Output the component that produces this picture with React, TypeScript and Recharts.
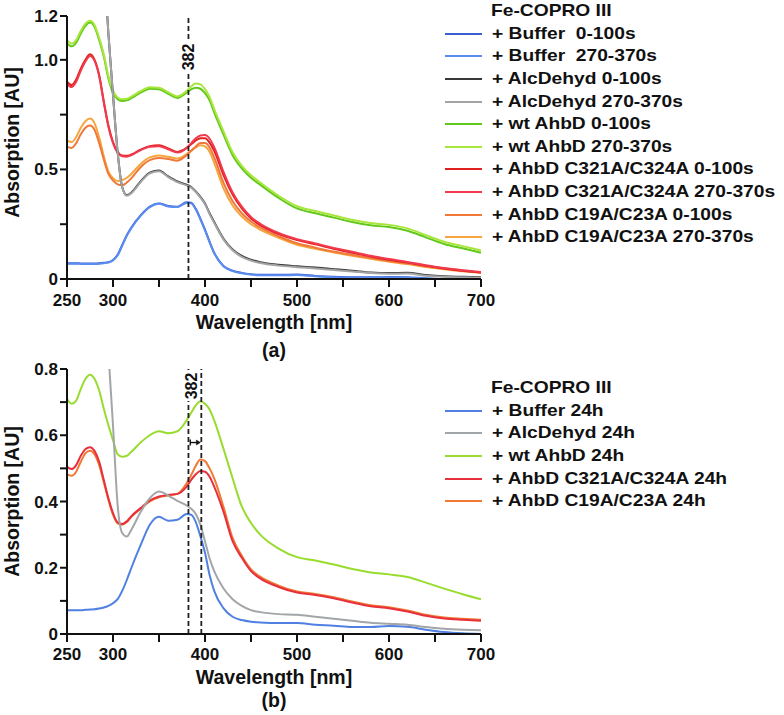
import { LineChart, Line, XAxis, YAxis, ReferenceLine } from 'recharts';

const FONT = "'Liberation Sans', Arial, Helvetica, sans-serif";
const INK = '#111111';

// wavelength grid (nm)
const wavelengths = [
  250, 255, 260, 265, 270, 275, 280, 285, 290, 295, 300, 305, 310, 315, 320, 330, 340, 350, 360, 370, 380, 385,
  390, 395, 400, 405, 410, 420, 430, 440, 450, 460, 480, 500, 520, 540, 560, 580, 600, 620, 640, 660, 680, 700,
];

// ---- (a) time windows ----
const bufferA0 = [
  0.072, 0.072, 0.072, 0.071, 0.071, 0.071, 0.071, 0.072, 0.074, 0.077, 0.087, 0.11, 0.155, 0.2, 0.235, 0.29, 0.33,
  0.345, 0.333, 0.33, 0.35, 0.348, 0.32, 0.275, 0.225, 0.17, 0.12, 0.06, 0.038, 0.028, 0.022, 0.019, 0.019, 0.02,
  0.014, 0.01, 0.008, 0.008, 0.009, 0.008, 0.003, 0, 0, 0,
];
const bufferA270 = [
  0.07, 0.07, 0.07, 0.069, 0.069, 0.069, 0.069, 0.07, 0.072, 0.075, 0.085, 0.108, 0.152, 0.198, 0.233, 0.288, 0.328,
  0.343, 0.331, 0.328, 0.347, 0.345, 0.317, 0.272, 0.222, 0.167, 0.118, 0.058, 0.036, 0.026, 0.02, 0.017, 0.017,
  0.018, 0.012, 0.008, 0.006, 0.006, 0.007, 0.006, 0.002, 0, 0, 0,
];
const alcA0 = [
  null, null, null, null, null, null, null, null, 1.45, 1.12, 0.84, 0.58, 0.42, 0.383, 0.395, 0.445, 0.485, 0.495,
  0.468, 0.445, 0.43, 0.42, 0.4, 0.375, 0.345, 0.3, 0.26, 0.185, 0.135, 0.105, 0.088, 0.077, 0.065, 0.058, 0.052,
  0.045, 0.038, 0.03, 0.027, 0.028, 0.018, 0.012, 0.01, 0.008,
];
const alcA270 = [
  null, null, null, null, null, null, null, null, 1.45, 1.12, 0.84, 0.58, 0.418, 0.38, 0.392, 0.442, 0.482, 0.492,
  0.465, 0.442, 0.427, 0.417, 0.397, 0.371, 0.341, 0.296, 0.256, 0.181, 0.131, 0.101, 0.084, 0.073, 0.061, 0.054,
  0.048, 0.041, 0.034, 0.027, 0.024, 0.025, 0.015, 0.01, 0.008, 0.006,
];
const wtA0 = [
  1.075, 1.062, 1.078, 1.12, 1.155, 1.17, 1.15, 1.09, 1.015, 0.915, 0.85, 0.82, 0.812, 0.815, 0.825, 0.85, 0.868,
  0.866, 0.845, 0.826, 0.85, 0.865, 0.873, 0.868, 0.848, 0.815, 0.76, 0.66, 0.565, 0.505, 0.462, 0.43, 0.37, 0.322,
  0.3, 0.28, 0.26, 0.245, 0.237, 0.22, 0.19, 0.16, 0.14, 0.12,
];
const wtA270 = [
  1.09, 1.075, 1.09, 1.132, 1.165, 1.178, 1.158, 1.1, 1.025, 0.925, 0.86, 0.828, 0.82, 0.822, 0.832, 0.857, 0.875,
  0.873, 0.852, 0.833, 0.858, 0.878, 0.892, 0.888, 0.866, 0.83, 0.775, 0.675, 0.578, 0.516, 0.473, 0.44, 0.38, 0.332,
  0.31, 0.29, 0.27, 0.255, 0.247, 0.231, 0.2, 0.17, 0.15, 0.13,
];
const c321A0 = [
  0.9, 0.885, 0.91, 0.96, 1.0, 1.025, 1.0, 0.93, 0.81, 0.7, 0.625, 0.58, 0.563, 0.562, 0.568, 0.59, 0.606, 0.61,
  0.596, 0.58, 0.598, 0.615, 0.632, 0.642, 0.642, 0.622, 0.585, 0.475, 0.385, 0.322, 0.276, 0.246, 0.205, 0.178,
  0.158, 0.138, 0.12, 0.103, 0.088, 0.075, 0.06, 0.048, 0.038, 0.03,
];
const c321A270 = [
  0.89, 0.876, 0.9, 0.95, 0.992, 1.018, 0.995, 0.925, 0.805, 0.695, 0.62, 0.576, 0.56, 0.558, 0.565, 0.588, 0.603,
  0.606, 0.592, 0.577, 0.598, 0.62, 0.642, 0.655, 0.657, 0.64, 0.602, 0.49, 0.395, 0.33, 0.283, 0.252, 0.21, 0.182,
  0.162, 0.142, 0.124, 0.106, 0.091, 0.078, 0.063, 0.05, 0.04, 0.032,
];
const c19A0 = [
  0.603, 0.598, 0.62, 0.66, 0.69, 0.7, 0.68, 0.62, 0.545, 0.48, 0.45, 0.432, 0.428, 0.44, 0.46, 0.51, 0.542, 0.552,
  0.548, 0.54, 0.565, 0.585, 0.605, 0.62, 0.62, 0.6, 0.555, 0.44, 0.355, 0.3, 0.262, 0.235, 0.195, 0.163, 0.143,
  0.125, 0.11, 0.096, 0.082, 0.071, 0.058, 0.047, 0.037, 0.03,
];
const c19A270 = [
  0.633, 0.625, 0.648, 0.69, 0.72, 0.732, 0.71, 0.645, 0.56, 0.49, 0.46, 0.447, 0.451, 0.462, 0.48, 0.525, 0.555,
  0.563, 0.558, 0.55, 0.57, 0.585, 0.6, 0.61, 0.605, 0.58, 0.53, 0.415, 0.335, 0.285, 0.25, 0.225, 0.188, 0.156,
  0.138, 0.121, 0.106, 0.092, 0.079, 0.068, 0.055, 0.045, 0.035, 0.028,
];

// ---- (b) 24h ----
const buffer24 = [
  0.072, 0.072, 0.072, 0.072, 0.073, 0.074, 0.075, 0.077, 0.08, 0.085, 0.093, 0.105, 0.13, 0.163, 0.2, 0.268, 0.33,
  0.354, 0.342, 0.345, 0.362, 0.36, 0.338, 0.295, 0.245, 0.178, 0.13, 0.078, 0.052, 0.042, 0.037, 0.035, 0.033,
  0.033, 0.028, 0.025, 0.021, 0.021, 0.024, 0.022, 0.013, 0.006, 0.002, 0,
];
const alc24 = [
  null, null, null, null, null, null, null, null, 1.1, 0.85, 0.63, 0.39, 0.305, 0.294, 0.315, 0.368, 0.41, 0.43,
  0.418, 0.402, 0.388, 0.378, 0.362, 0.33, 0.28, 0.228, 0.19, 0.138, 0.105, 0.085, 0.072, 0.066, 0.06, 0.058,
  0.052, 0.046, 0.04, 0.034, 0.031, 0.028, 0.021, 0.016, 0.013, 0.011,
];
const wt24 = [
  0.71, 0.695, 0.705, 0.74, 0.77, 0.783, 0.77, 0.735, 0.68, 0.63, 0.585, 0.543, 0.535, 0.538, 0.55, 0.578, 0.6,
  0.612, 0.606, 0.612, 0.645, 0.668, 0.69, 0.703, 0.695, 0.678, 0.645, 0.56, 0.47, 0.385, 0.335, 0.3, 0.258, 0.232,
  0.222, 0.21, 0.196, 0.186, 0.18, 0.172, 0.155, 0.137, 0.12, 0.105,
];
const c321_24 = [
  0.505, 0.498, 0.51, 0.538, 0.558, 0.564, 0.552, 0.52, 0.465, 0.41, 0.365, 0.337, 0.332, 0.34, 0.356, 0.38, 0.403,
  0.415, 0.42, 0.423, 0.445, 0.465, 0.482, 0.492, 0.49, 0.475, 0.445, 0.37, 0.28, 0.23, 0.19, 0.168, 0.142, 0.125,
  0.118, 0.108, 0.095, 0.084, 0.078, 0.068, 0.055, 0.047, 0.043, 0.04,
];
const c19_24 = [
  0.482, 0.478, 0.49, 0.52, 0.545, 0.553, 0.542, 0.51, 0.458, 0.405, 0.36, 0.334, 0.33, 0.338, 0.354, 0.378, 0.4,
  0.413, 0.418, 0.423, 0.455, 0.48, 0.508, 0.527, 0.522, 0.5, 0.47, 0.385, 0.29, 0.236, 0.195, 0.173, 0.146, 0.128,
  0.121, 0.111, 0.098, 0.087, 0.081, 0.071, 0.058, 0.05, 0.046, 0.043,
];

const xTicks = [250, 300, 350, 400, 450, 500, 550, 600, 650, 700];
const xLabelled = [250, 300, 400, 500, 600, 700];
const yTicksA = [0, 0.25, 0.5, 0.75, 1.0, 1.2];
const yLabelsA: Record<string, string> = { '0': '0', '0.5': '0.5', '1': '1.0', '1.2': '1.2' };
const yTicksB = [0, 0.1, 0.2, 0.3, 0.4, 0.5, 0.6, 0.7, 0.8];

type Series = { key: string; name: string; color: string; values: (number | null)[] };

// legend order
const seriesA: Series[] = [
  { key: 'bufA0', name: '+ Buffer  0-100s', color: '#3a5fd3', values: bufferA0 },
  { key: 'bufA270', name: '+ Buffer  270-370s', color: '#5b8df0', values: bufferA270 },
  { key: 'alcA0', name: '+ AlcDehyd 0-100s', color: '#383838', values: alcA0 },
  { key: 'alcA270', name: '+ AlcDehyd 270-370s', color: '#a2a4a6', values: alcA270 },
  { key: 'wtA0', name: '+ wt AhbD 0-100s', color: '#62c81c', values: wtA0 },
  { key: 'wtA270', name: '+ wt AhbD 270-370s', color: '#a8e63c', values: wtA270 },
  { key: 'c321A0', name: '+ AhbD C321A/C324A 0-100s', color: '#e0201e', values: c321A0 },
  { key: 'c321A270', name: '+ AhbD C321A/C324A 270-370s', color: '#f23a4e', values: c321A270 },
  { key: 'c19A0', name: '+ AhbD C19A/C23A 0-100s', color: '#f07838', values: c19A0 },
  { key: 'c19A270', name: '+ AhbD C19A/C23A 270-370s', color: '#f6a640', values: c19A270 },
];
const drawOrderA = ['c19A270', 'c19A0', 'c321A0', 'c321A270', 'wtA0', 'wtA270', 'bufA0', 'bufA270', 'alcA0', 'alcA270'];

const seriesB: Series[] = [
  { key: 'buf24', name: '+ Buffer 24h', color: '#4f80e2', values: buffer24 },
  { key: 'alc24', name: '+ AlcDehyd 24h', color: '#a3a6a8', values: alc24 },
  { key: 'wt24', name: '+ wt AhbD 24h', color: '#98dc2e', values: wt24 },
  { key: 'c321_24', name: '+ AhbD C321A/C324A 24h', color: '#e8303c', values: c321_24 },
  { key: 'c19_24', name: '+ AhbD C19A/C23A 24h', color: '#f07a34', values: c19_24 },
];
const drawOrderB = ['c19_24', 'c321_24', 'wt24', 'buf24', 'alc24'];

const toRows = (series: Series[]) =>
  wavelengths.map((w, i) => {
    const row: Record<string, number | null> = { w };
    series.forEach((s) => (row[s.key] = s.values[i]));
    return row;
  });

const dataA = toRows(seriesA);
const dataB = toRows(seriesB);

const tickStyle = { fill: INK, fontSize: 17, fontWeight: 700, fontFamily: FONT };
const axisLine = { stroke: INK, strokeWidth: 2 };

const XTitle = (props: any) => {
  const vb = props.viewBox ?? { x: 0, y: 0, width: 0, height: 0 };
  return (
    <text
      x={vb.x + vb.width / 2}
      y={vb.y + 43}
      textAnchor="middle"
      dominantBaseline="central"
      fill={INK}
      style={{ fontSize: 19.5, fontWeight: 700, fontFamily: FONT }}
    >
      Wavelength [nm]
    </text>
  );
};

const YTitle = (props: any) => {
  const vb = props.viewBox ?? { x: 0, y: 0, width: 0, height: 0 };
  const cx = 12;
  const cy = vb.y + vb.height / 2 + (props.shift ?? 0);
  return (
    <text
      x={cx}
      y={cy}
      transform={`rotate(-90 ${cx} ${cy})`}
      textAnchor="middle"
      dominantBaseline="central"
      fill={INK}
      style={{ fontSize: 19.5, fontWeight: 700, fontFamily: FONT }}
    >
      Absorption [AU]
    </text>
  );
};

const MarkLabel = (props: any) => {
  const vb = props.viewBox ?? { x: 0, y: 0 };
  const cx = vb.x + (props.dx ?? 0);
  const cy = vb.y + props.dy;
  return (
    <g>
      <rect x={cx - 7} y={cy - 15} width={14} height={30} fill="#fff" />
      <text
        x={cx}
        y={cy}
        transform={`rotate(-90 ${cx} ${cy})`}
        textAnchor="middle"
        dominantBaseline="central"
        fill={INK}
        style={{ fontSize: 16, fontWeight: 700, fontFamily: FONT }}
      >
        382
      </text>
    </g>
  );
};

const ShiftArrow = (props: any) => {
  const { x1, y1, x2, y2 } = props;
  return (
    <g stroke={INK} strokeWidth={1.4} fill={INK}>
      <line x1={x1} y1={y1 - 3} x2={x1} y2={y1 + 3} />
      <line x1={x1} y1={y1} x2={x2 - 3} y2={y2} />
      <polygon points={`${x2},${y2} ${x2 - 4},${y2 - 2.5} ${x2 - 4},${y2 + 2.5}`} strokeWidth={0.5} />
    </g>
  );
};

const xFormat = (v: number) => (xLabelled.includes(v) ? String(v) : '');
const yFormatA = (v: number) => yLabelsA[String(v)] ?? '';
const yFormatB = (v: number) => {
  const tenth = Math.round(v * 10);
  if (tenth % 2 !== 0) return '';
  return tenth === 0 ? '0' : (tenth / 10).toFixed(1);
};

function Legend({ title, series, top }: { title: string; series: Series[]; top: number }) {
  const rowH = 22.6;
  return (
    <div style={{ position: 'absolute', left: 445, top, fontFamily: FONT, fontWeight: 700, fontSize: 17, color: INK }}>
      <div style={{ height: rowH, lineHeight: `${rowH}px`, paddingLeft: 46, whiteSpace: 'pre' }}>
        <span style={{ display: 'inline-block', transform: 'scaleX(1.13)', transformOrigin: 'left center' }}>
          {title}
        </span>
      </div>
      {series.map((s) => (
        <div key={s.key} style={{ display: 'flex', alignItems: 'center', height: rowH, whiteSpace: 'pre' }}>
          <div style={{ width: 37, height: 2, background: s.color, marginRight: 10 }} />
          <span style={{ display: 'inline-block', transform: 'scaleX(1.13)', transformOrigin: 'left center' }}>
            {s.name}
          </span>
        </div>
      ))}
    </div>
  );
}

function PanelTag({ text, top }: { text: string; top: number }) {
  return (
    <div
      style={{
        position: 'absolute',
        left: 0,
        top,
        width: 548,
        textAlign: 'center',
        lineHeight: '24px',
        fontFamily: FONT,
        fontWeight: 700,
        fontSize: 19.5,
        color: INK,
      }}
    >
      {text}
    </div>
  );
}

export default function App() {
  const byKeyA = Object.fromEntries(seriesA.map((s) => [s.key, s]));
  const byKeyB = Object.fromEntries(seriesB.map((s) => [s.key, s]));

  return (
    <div style={{ position: 'absolute', left: 0, top: 0, width: 784, height: 715, background: '#fff' }}>
      {/* (a) */}
      <div style={{ position: 'absolute', left: 0, top: 0 }}>
        <LineChart width={500} height={360} data={dataA} margin={{ top: 16, right: 19, bottom: 26, left: 0 }}>
          <XAxis
            dataKey="w"
            type="number"
            domain={[250, 700]}
            ticks={xTicks}
            interval={0}
            tickFormatter={xFormat}
            tick={tickStyle}
            axisLine={axisLine}
            tickLine={axisLine}
            tickSize={8}
            tickMargin={7}
            height={55}
            label={<XTitle />}
          />
          <YAxis
            type="number"
            domain={[0, 1.2]}
            ticks={yTicksA}
            interval={0}
            allowDataOverflow
            tickFormatter={yFormatA}
            tick={tickStyle}
            axisLine={axisLine}
            tickLine={axisLine}
            tickSize={7}
            tickMargin={2}
            width={67}
            label={<YTitle shift={-5} />}
          />
          {drawOrderA.map((k) => (
            <Line
              key={k}
              dataKey={k}
              name={byKeyA[k].name}
              type="monotone"
              stroke={byKeyA[k].color}
              strokeWidth={2}
              dot={false}
              isAnimationActive={false}
            />
          ))}
          <ReferenceLine
            x={382}
            stroke="#222"
            strokeWidth={1.8}
            strokeDasharray="5 3"
            label={<MarkLabel dy={41} />}
          />
        </LineChart>
      </div>
      <Legend title="Fe-COPRO III" series={seriesA} top={0} />
      <PanelTag text="(a)" top={338} />

      {/* (b) */}
      <div style={{ position: 'absolute', left: 0, top: 340 }}>
        <LineChart width={500} height={375} data={dataB} margin={{ top: 29, right: 19, bottom: 26, left: 0 }}>
          <XAxis
            dataKey="w"
            type="number"
            domain={[250, 700]}
            ticks={xTicks}
            interval={0}
            tickFormatter={xFormat}
            tick={tickStyle}
            axisLine={axisLine}
            tickLine={axisLine}
            tickSize={8}
            tickMargin={6}
            height={55}
            label={<XTitle />}
          />
          <YAxis
            type="number"
            domain={[0, 0.8]}
            ticks={yTicksB}
            interval={0}
            allowDataOverflow
            tickFormatter={yFormatB}
            tick={tickStyle}
            axisLine={axisLine}
            tickLine={axisLine}
            tickSize={7}
            tickMargin={2}
            width={67}
            label={<YTitle shift={0} />}
          />
          {drawOrderB.map((k) => (
            <Line
              key={k}
              dataKey={k}
              name={byKeyB[k].name}
              type="monotone"
              stroke={byKeyB[k].color}
              strokeWidth={2}
              dot={false}
              isAnimationActive={false}
            />
          ))}
          <ReferenceLine
            x={382}
            stroke="#222"
            strokeWidth={1.8}
            strokeDasharray="5 3"
            label={<MarkLabel dy={17} dx={3} />}
          />
          <ReferenceLine x={396} stroke="#222" strokeWidth={1.8} strokeDasharray="5 3" />
          <ReferenceLine
            segment={[
              { x: 384, y: 0.578 },
              { x: 395, y: 0.578 },
            ]}
            shape={ShiftArrow}
          />
        </LineChart>
      </div>
      <Legend title="Fe-COPRO III" series={seriesB} top={377} />
      <PanelTag text="(b)" top={688} />
    </div>
  );
}
